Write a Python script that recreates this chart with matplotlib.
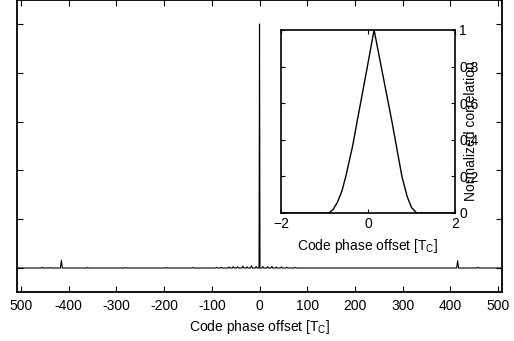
import matplotlib
matplotlib.use("Agg")
import matplotlib.pyplot as plt

plt.rcParams['font.family'] = ['Liberation Sans', 'DejaVu Sans']
plt.rcParams['mathtext.fontset'] = 'custom'
plt.rcParams['mathtext.rm'] = 'Liberation Sans'
plt.rcParams['mathtext.it'] = 'Liberation Sans'
plt.rcParams['font.size'] = 10

# full correlation over code phase offset (chips)
corr_x = [-508, -457, -455, -453, -441, -439, -437, -417, -415, -413,
          -362, -360, -358, -282, -280, -278, -197, -195, -193, -142, -140, -138,
          -92, -90, -88, -82, -80, -78, -66, -64, -62, -57, -55, -53,
          -48, -46, -44, -37, -35, -33, -28, -26, -24, -19, -17, -15,
          -9, -7, -5, -1, 0, 1, 5, 7, 9, 15, 17, 19, 24, 26, 28,
          33, 35, 37, 44, 46, 48, 55, 57, 59, 73, 75, 77,
          413, 415, 417, 455, 457, 459, 508]
corr_y = [0.0, 0.0, 0.003, 0.0, 0.0, 0.002, 0.0, 0.0, 0.032, 0.0,
          0.0, 0.002, 0.0, 0.0, 0.002, 0.0, 0.0, 0.002, 0.0, 0.0, 0.002, 0.0,
          0.0, 0.003, 0.0, 0.0, 0.003, 0.0, 0.0, 0.004, 0.0, 0.0, 0.006, 0.0,
          0.0, 0.005, 0.0, 0.0, 0.008, 0.0, 0.0, 0.005, 0.0, 0.0, 0.009, 0.0,
          0.0, 0.006, 0.0, 0.0, 1.0, 0.0, 0.0, 0.006, 0.0, 0.0, 0.005, 0.0, 0.0, 0.007, 0.0,
          0.0, 0.004, 0.0, 0.0, 0.005, 0.0, 0.0, 0.003, 0.0, 0.0, 0.003, 0.0,
          0.0, 0.03, 0.0, 0.0, 0.003, 0.0, 0.0]

# zoom on the main peak
peak_x = [-2.0, -0.9, -0.8, -0.7, -0.6, -0.51, -0.35, -0.25, -0.03, 0.14,
          0.32, 0.55, 0.68, 0.78, 0.9, 1.0, 1.12, 2.0]
peak_y = [0.0, 0.0, 0.02, 0.06, 0.12, 0.2, 0.37, 0.5, 0.78, 1.0,
          0.78, 0.5, 0.33, 0.2, 0.09, 0.03, 0.0, 0.0]

main_xticks = [-500, -400, -300, -200, -100, 0, 100, 200, 300, 400, 500]
main_xlabels = ['500', '-400', '-300', '-200', '-100', '0', '100', '200', '300', '400', '500']

fig = plt.figure(figsize=(5.14, 3.41), dpi=100)
ax = fig.add_axes([0.0331, 0.1425, 0.9436, 0.8587])
ax.plot(corr_x, corr_y, color='black', lw=0.8)
ax.set_xlim(-508, 508)
ax.set_ylim(-0.1, 1.1)
ax.set_xticks(main_xticks)
ax.set_xticklabels(main_xlabels)
ax.set_yticks([0, 0.2, 0.4, 0.6, 0.8, 1.0])
ax.set_yticklabels([])
ax.tick_params(direction='in', top=True, right=True, length=4, width=0.8, pad=5)
for s in ax.spines.values():
    s.set_linewidth(1.3)
ax.set_xlabel(r'Code phase offset [T$_{\mathrm{C}}$]', labelpad=3)

ins = fig.add_axes([0.5467, 0.3754, 0.3385, 0.5367])
ins.plot(peak_x, peak_y, color='black', lw=1.0)
ins.set_xlim(-2, 2)
ins.set_ylim(0, 1)
ins.set_xticks([-2, 0, 2])
ins.set_yticks([0, 0.2, 0.4, 0.6, 0.8, 1.0])
ins.set_yticklabels(['0', '0.2', '0.4', '0.6', '0.8', '1'])
ins.tick_params(direction='in', left=True, right=True, top=True,
                labelleft=False, labelright=True, length=3, width=0.8, pad=3)
for s in ins.spines.values():
    s.set_linewidth(1.2)
ins.set_xlabel(r'Code phase offset [T$_{\mathrm{C}}$]', labelpad=4)
ins.yaxis.set_label_position('right')
ins.set_ylabel('Normalized correlation')
ins.yaxis.set_label_coords(1.05, 0.45)

fig.savefig('out.png', dpi=100)
